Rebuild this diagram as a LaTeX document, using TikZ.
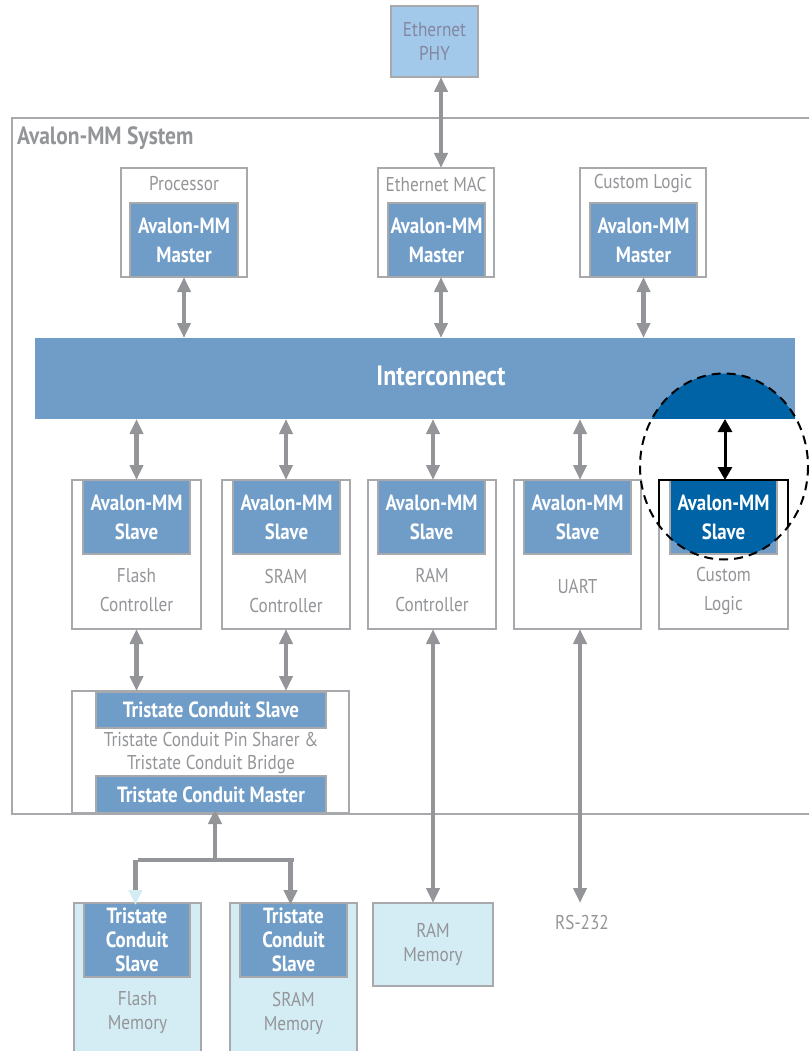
\documentclass[tikz,border=0pt]{standalone}
\usepackage{fontspec}
\setmainfont[FakeStretch=0.86]{PT Sans}
\usetikzlibrary{arrows.meta}

\definecolor{avtext}{HTML}{939598}
\definecolor{avline}{HTML}{A7A9AC}
\definecolor{avarrow}{HTML}{939598}
\definecolor{avblue}{HTML}{709DC8}
\definecolor{avdark}{HTML}{0063A6}
\definecolor{avphy}{HTML}{A2C9EA}
\definecolor{avmem}{HTML}{D4ECF4}

\begin{document}
\begin{tikzpicture}[x=1pt, y=-1pt,
	hostbox/.style={draw=avline, line width=1.3pt, fill=white, inner sep=0pt, outer sep=0pt},
	membox/.style={hostbox, fill=avmem},
	ifbox/.style={draw=avline, line width=1.3pt, fill=avblue, inner sep=0pt, outer sep=0pt,
		text=white, align=center, font=\bfseries\fontsize{22}{29}\selectfont},
	graytext/.style={text=avtext, align=center, inner sep=0pt, font=\fontsize{20}{29}\selectfont},
	link/.style={draw=avarrow, line width=4.5pt, {Triangle[length=15pt,width=13pt]}-{Triangle[length=15pt,width=13pt]}},
	uplink/.style={draw=avarrow, line width=4.5pt, -{Triangle[length=15pt,width=13pt]}}]
	\useasboundingbox (0,0) rectangle (808,1051);

	% system frame
	\draw[avline, line width=1.3pt] (12,118) rectangle (815,814);
	\draw (17,138) node[anchor=west, inner sep=0pt, text=avtext, font=\bfseries\fontsize{25}{24}\selectfont] (systitle) {Avalon-MM System};

	% ethernet phy
	\draw (434.5,41.5) node[hostbox, fill=avphy, minimum width=87pt, minimum height=71pt] (phy) {};
	\draw (phy) node[graytext, text=avtext!90!blue, font=\fontsize{20}{24}\selectfont] (phytext) {Ethernet\\PHY};

	% masters
	\draw (184,222.5) node[hostbox, minimum width=126pt, minimum height=109pt] (proc) {};
	\draw (436,222.5) node[hostbox, minimum width=116pt, minimum height=109pt] (mac) {};
	\draw (643,222.5) node[hostbox, minimum width=126pt, minimum height=109pt] (cust) {};
	\draw (184,184) node[graytext] (proctitle) {Processor};
	\draw (436,184) node[graytext] (mactitle) {Ethernet MAC};
	\draw (643,184) node[graytext] (custtitle) {Custom Logic};
	\draw (184,240) node[ifbox, minimum width=108pt, minimum height=74pt] (procm) {Avalon-MM\\Master};
	\draw (436.5,240) node[ifbox, minimum width=97pt, minimum height=74pt] (macm) {Avalon-MM\\Master};
	\draw (643.5,240) node[ifbox, minimum width=107pt, minimum height=74pt] (custm) {Avalon-MM\\Master};

	% interconnect
	\draw (415,378.5) node[ifbox, draw=none, minimum width=760pt, minimum height=81pt] (ic) {};
	\draw (441,376) node[text=white, inner sep=0pt, font=\bfseries\fontsize{28}{24}\selectfont] (ictext) {Interconnect};

	% slaves
	\draw (136.5,554.5) node[hostbox, minimum width=129pt, minimum height=149pt] (flash) {};
	\draw (286,554.5) node[hostbox, minimum width=128pt, minimum height=149pt] (sram) {};
	\draw (432,554.5) node[hostbox, minimum width=128pt, minimum height=149pt] (ram) {};
	\draw (577.5,554.5) node[hostbox, minimum width=127pt, minimum height=149pt] (uart) {};
	\draw (723.5,554.5) node[hostbox, minimum width=129pt, minimum height=149pt] (custl) {};
	\draw (136.5,517) node[ifbox, minimum width=107pt, minimum height=74pt] (flashs) {Avalon-MM\\Slave};
	\draw (286.5,517) node[ifbox, minimum width=107pt, minimum height=74pt] (srams) {Avalon-MM\\Slave};
	\draw (431.5,517) node[ifbox, minimum width=107pt, minimum height=74pt] (rams) {Avalon-MM\\Slave};
	\draw (577.5,517) node[ifbox, minimum width=107pt, minimum height=74pt] (uarts) {Avalon-MM\\Slave};
	\draw (723.5,517) node[ifbox, minimum width=107pt, minimum height=74pt] (custls) {};
	\draw (136.5,590.5) node[graytext] (flashtitle) {Flash\\Controller};
	\draw (286,590.5) node[graytext] (sramtitle) {SRAM\\Controller};
	\draw (432,590.5) node[graytext] (ramtitle) {RAM\\Controller};
	\draw (577.5,586) node[graytext] (uarttitle) {UART};
	\draw (723.5,590.5) node[graytext] (custltitle) {Custom\\Logic};

	% tristate bridge
	\draw (210.5,752) node[hostbox, minimum width=277pt, minimum height=122pt] (bridge) {};
	\draw (211,710) node[ifbox, minimum width=230pt, minimum height=36pt] (tcs) {Tristate Conduit Slave};
	\draw (211,794.5) node[ifbox, minimum width=230pt, minimum height=37pt] (tcm) {Tristate Conduit Master};
	\draw (211,753) node[graytext, font=\fontsize{20}{23}\selectfont] (bridgetitle) {Tristate Conduit Pin Sharer \&\\Tristate Conduit Bridge};

	% memories
	\draw (137.5,979) node[membox, minimum width=127pt, minimum height=152pt] (flashmem) {};
	\draw (293.5,979) node[membox, minimum width=127pt, minimum height=152pt] (srammem) {};
	\draw (433,944.5) node[membox, minimum width=120pt, minimum height=83pt] (rammem) {};
	\draw (137,940) node[ifbox, minimum width=106pt, minimum height=74pt, font=\bfseries\fontsize{22}{24}\selectfont] (flashmems) {Tristate\\Conduit\\Slave};
	\draw (293.5,940) node[ifbox, minimum width=107pt, minimum height=74pt, font=\bfseries\fontsize{22}{24}\selectfont] (srammems) {Tristate\\Conduit\\Slave};
	\draw (137.5,1013) node[graytext, font=\fontsize{20}{24}\selectfont] (flashmemtitle) {Flash\\Memory};
	\draw (293.5,1013) node[graytext, font=\fontsize{20}{24}\selectfont] (srammemtitle) {SRAM\\Memory};
	\draw (rammem) node[graytext, font=\fontsize{20}{24}\selectfont] (rammemtitle) {RAM\\Memory};
	\draw (582,922) node[graytext] (rs) {RS-232};

	% connections
	\draw[link] ([xshift=6.5pt]phy.south) -- ([xshift=5pt]mac.north);
	\draw[link] (procm.south) -- (procm.south |- ic.north);
	\draw[link] ([xshift=4.5pt]macm.south) -- ([xshift=4.5pt]macm.south |- ic.north);
	\draw[link] (custm.south) -- (custm.south |- ic.north);
	\draw[link] (flash.north |- ic.south) -- (flash.north);
	\draw[link] (sram.north |- ic.south) -- (sram.north);
	\draw[link] ([xshift=1pt]ram.north |- ic.south) -- ([xshift=1pt]ram.north);
	\draw[link] ([xshift=2.5pt]uart.north |- ic.south) -- ([xshift=2.5pt]uart.north);
	\draw[link] (flash.south) -- (flash.south |- bridge.north);
	\draw[link] (sram.south) -- (sram.south |- bridge.north);
	\draw[link] ([xshift=1pt]ram.south) -- ([xshift=1pt]ram.south |- rammem.north);
	\draw[link] ([xshift=2.5pt]uart.south) -- ([xshift=2.5pt]uart.south |- rammem.north);
	\coordinate (split) at (215,860);
	\draw[uplink] (split) -- ([yshift=4pt]split |- bridge.south);
	\draw[avarrow, line width=4.5pt] (split -| flashmem.north) -- (split -| srammem.north);
	\draw[draw=avarrow, line width=4.5pt, -{Triangle[length=15pt,width=13pt,color=avmem]}] ([xshift=-2pt]split -| flashmem.north) -- ([xshift=-2pt,yshift=-2pt]flashmem.north);
	\draw[uplink] ([xshift=-3pt]split -| srammem.north) -- ([xshift=-3pt,yshift=-2pt]srammem.north);

	% highlighted custom logic slave
	\begin{scope}
		\clip (724,466.5) ellipse [x radius=84, y radius=93];
		\fill[avdark] (ic.south west) rectangle (ic.north east);
		\draw (custls) node[ifbox, fill=avdark, minimum width=107pt, minimum height=74pt] (custlsh) {Avalon-MM\\Slave};
		\draw[black, line width=1.3pt] (custl.south west) rectangle (custl.north east);
	\end{scope}
	\draw[black, line width=3pt, {Triangle[length=13pt,width=14pt]}-{Triangle[length=13pt,width=14pt]}] ([xshift=1.5pt]custl.north |- ic.south) -- ([xshift=1.5pt]custl.north);
	\draw[black, line width=2pt, dash pattern=on 9pt off 6pt] (724,466.5) ellipse [x radius=84, y radius=93];
\end{tikzpicture}
\end{document}
